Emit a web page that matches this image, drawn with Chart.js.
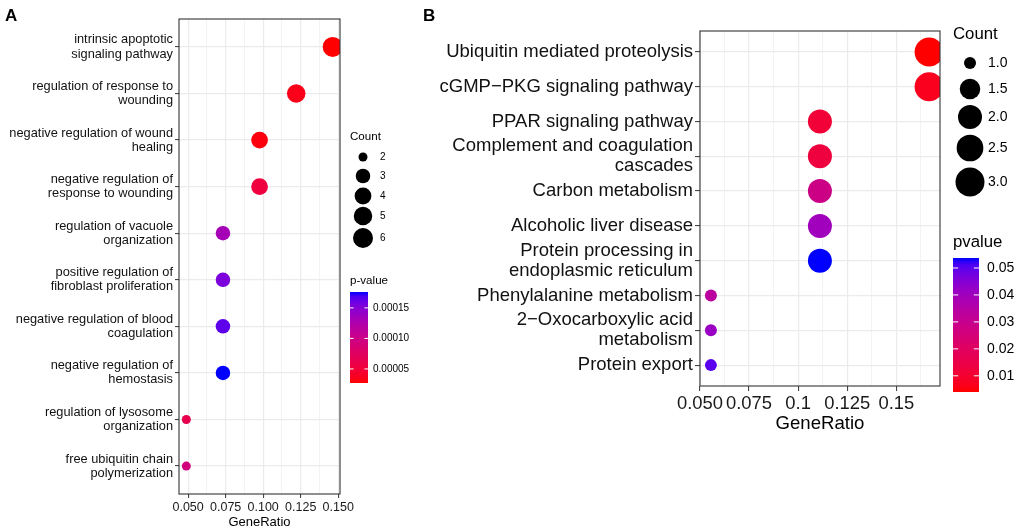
<!DOCTYPE html>
<html>
<head>
<meta charset="utf-8">
<script src="https://cdn.jsdelivr.net/npm/chart.js@4.4.1/dist/chart.umd.min.js"></script>
<style>
  body { margin: 0; background: #fff; }
  #wrap { position: relative; width: 1021px; height: 531px; }
  canvas { position: absolute; left: 0; top: 0; }
  .tag { position: absolute; font: bold 17px "Liberation Sans", Arial, sans-serif; color: #000; }
</style>
</head>
<body>
<div id="wrap">
  <canvas id="chartA" width="1021" height="531"></canvas>
  <canvas id="chartB" width="1021" height="531"></canvas>
  <div class="tag" style="left:5px;top:6px">A</div>
  <div class="tag" style="left:423px;top:6px">B</div>
</div>
<script>
// ---- panel A: GO terms ----
const termsA = [
  "intrinsic apoptotic\nsignaling pathway",
  "regulation of response to\nwounding",
  "negative regulation of wound\nhealing",
  "negative regulation of\nresponse to wounding",
  "regulation of vacuole\norganization",
  "positive regulation of\nfibroblast proliferation",
  "negative regulation of blood\ncoagulation",
  "negative regulation of\nhemostasis",
  "regulation of lysosome\norganization",
  "free ubiquitin chain\npolymerization"
];
const ratioA = [0.1463, 0.1220, 0.0976, 0.0976, 0.0732, 0.0732, 0.0732, 0.0732, 0.0488, 0.0488];
const countA = [6, 5, 4, 4, 3, 3, 3, 3, 2, 2];
const pvalA = [0.000027, 0.000034, 0.000031, 0.000054, 0.000131, 0.000154, 0.000164, 0.000176, 0.000064, 0.000094];
const xTicksA = [0.05, 0.075, 0.1, 0.125, 0.15];
const xLabelsA = ["0.050", "0.075", "0.100", "0.125", "0.150"];
const countKeysA = [2, 3, 4, 5, 6];
const countLabelsA = ["2", "3", "4", "5", "6"];
const pTicksA = [0.00005, 0.0001, 0.00015];
const pLabelsA = ["0.00005", "0.00010", "0.00015"];

// ---- panel B: KEGG pathways ----
const termsB = [
  "Ubiquitin mediated proteolysis",
  "cGMP\u2212PKG signaling pathway",
  "PPAR signaling pathway",
  "Complement and coagulation\ncascades",
  "Carbon metabolism",
  "Alcoholic liver disease",
  "Protein processing in\nendoplasmic reticulum",
  "Phenylalanine metabolism",
  "2\u2212Oxocarboxylic acid\nmetabolism",
  "Protein export"
];
const ratioB = [0.1667, 0.1667, 0.1111, 0.1111, 0.1111, 0.1111, 0.1111, 0.0556, 0.0556, 0.0556];
const countB = [3, 3, 2, 2, 2, 2, 2, 1, 1, 1];
const pvalB = [0.0040, 0.0070, 0.0115, 0.0130, 0.0280, 0.0398, 0.0537, 0.0338, 0.0413, 0.0502];
const xTicksB = [0.05, 0.075, 0.1, 0.125, 0.15];
const xLabelsB = ["0.050", "0.075", "0.1", "0.125", "0.15"];
const countKeysB = [1, 1.5, 2, 2.5, 3];
const countLabelsB = ["1.0", "1.5", "2.0", "2.5", "3.0"];
const pTicksB = [0.01, 0.02, 0.03, 0.04, 0.05];
const pLabelsB = ["0.01", "0.02", "0.03", "0.04", "0.05"];

const FONT = "'Liberation Sans', Arial, sans-serif";
Chart.defaults.font.family = FONT;

// red -> blue gradient interpolated in Lab, like ggplot's scale_colour_gradient
function toLin(c) { c /= 255; return c <= 0.04045 ? c / 12.92 : Math.pow((c + 0.055) / 1.055, 2.4); }
function toSrgb(c) {
  c = c <= 0.0031308 ? 12.92 * c : 1.055 * Math.pow(Math.max(c, 0), 1 / 2.4) - 0.055;
  return Math.round(Math.max(0, Math.min(1, c)) * 255);
}
function rgb2lab(rgb) {
  const r = toLin(rgb[0]), g = toLin(rgb[1]), b = toLin(rgb[2]);
  const x = (0.4124 * r + 0.3576 * g + 0.1805 * b) / 0.95047;
  const y = 0.2126 * r + 0.7152 * g + 0.0722 * b;
  const z = (0.0193 * r + 0.1192 * g + 0.9505 * b) / 1.08883;
  const f = t => t > 0.008856 ? Math.cbrt(t) : 7.787 * t + 16 / 116;
  return [116 * f(y) - 16, 500 * (f(x) - f(y)), 200 * (f(y) - f(z))];
}
function lab2rgb(lab) {
  const fy = (lab[0] + 16) / 116, fx = fy + lab[1] / 500, fz = fy - lab[2] / 200;
  const fi = t => t * t * t > 0.008856 ? t * t * t : (t - 16 / 116) / 7.787;
  const x = fi(fx) * 0.95047, y = fi(fy), z = fi(fz) * 1.08883;
  return [
    toSrgb(3.2406 * x - 1.5372 * y - 0.4986 * z),
    toSrgb(-0.9689 * x + 1.8758 * y + 0.0415 * z),
    toSrgb(0.0557 * x - 0.2040 * y + 1.0570 * z)
  ];
}
const LOW = rgb2lab([255, 0, 0]), HIGH = rgb2lab([0, 0, 255]);
function gradColor(t) {
  t = Math.max(0, Math.min(1, t));
  const c = lab2rgb(LOW.map((v, i) => v + (HIGH[i] - v) * t));
  return `rgb(${c[0]},${c[1]},${c[2]})`;
}

function makePanel(canvasId, p) {
  const n = p.terms.length;
  const xlo = Math.min(...p.ratio), xhi = Math.max(...p.ratio);
  const xmin = xlo - 0.05 * (xhi - xlo), xmax = xhi + 0.05 * (xhi - xlo);
  const pmin = Math.min(...p.pval), pmax = Math.max(...p.pval);
  const cmin = Math.min(...p.count), cmax = Math.max(...p.count);
  // area scale like scale_size(range = c(1, 6))
  const radius = c => p.rA + p.rB * (1 + 5 * Math.sqrt((c - cmin) / (cmax - cmin)));
  const isMajor = v => p.xTicks.some(t => Math.abs(t - v) < 1e-9);

  const step = p.xTicks[1] - p.xTicks[0];
  const gridVals = p.xTicks.slice();
  [p.xTicks[0] - step / 2].concat(p.xTicks.map(v => v + step / 2)).forEach(m => {
    if (m > xmin && m < xmax) gridVals.push(m);
  });
  gridVals.sort((a, b) => a - b);

  const frame = {
    id: "frame",
    afterDatasetsDraw(chart) {
      const a = chart.chartArea, ctx = chart.ctx;
      ctx.save();
      ctx.strokeStyle = "#333333";
      ctx.lineWidth = 1.1;
      ctx.strokeRect(a.left, a.top, a.right - a.left, a.bottom - a.top);
      ctx.restore();
    },
    afterDraw(chart) {
      const L = p.legend, ctx = chart.ctx;
      ctx.save();
      ctx.textBaseline = "middle";
      ctx.textAlign = "left";
      ctx.fillStyle = "#000";
      ctx.font = `${L.titleSize}px ${FONT}`;
      ctx.fillText("Count", L.x, L.countTitleY);
      ctx.font = `${L.labelSize}px ${FONT}`;
      p.countKeys.forEach((c, i) => {
        ctx.beginPath();
        ctx.arc(L.keyX, L.keyYs[i], radius(c), 0, Math.PI * 2);
        ctx.fill();
        ctx.fillText(p.countLabels[i], L.labelX, L.keyYs[i]);
      });
      ctx.font = `${L.titleSize}px ${FONT}`;
      ctx.fillText(p.pTitle, L.x, L.pTitleY);
      const g = ctx.createLinearGradient(0, L.barBottom, 0, L.barTop);
      for (let k = 0; k <= 20; k++) g.addColorStop(k / 20, gradColor(k / 20));
      ctx.fillStyle = g;
      ctx.fillRect(L.x, L.barTop, L.barW, L.barBottom - L.barTop);
      ctx.font = `${L.labelSize}px ${FONT}`;
      p.pTicks.forEach((v, i) => {
        const y = L.barBottom - (v - pmin) / (pmax - pmin) * (L.barBottom - L.barTop);
        ctx.strokeStyle = "#fff";
        ctx.lineWidth = 1;
        ctx.beginPath();
        ctx.moveTo(L.x, y); ctx.lineTo(L.x + L.barW / 5, y);
        ctx.moveTo(L.x + L.barW, y); ctx.lineTo(L.x + L.barW * 4 / 5, y);
        ctx.stroke();
        ctx.fillStyle = "#000";
        ctx.fillText(p.pLabels[i], L.pLabelX, y);
      });
      ctx.restore();
    }
  };

  return new Chart(document.getElementById(canvasId), {
    type: "bubble",
    data: {
      datasets: [{
        data: p.ratio.map((x, i) => ({ x: x, y: n - i, r: radius(p.count[i]) })),
        backgroundColor: p.pval.map(v => gradColor((v - pmin) / (pmax - pmin))),
        borderWidth: 0,
        clip: 0
      }]
    },
    options: {
      responsive: false,
      animation: false,
      events: [],
      layout: { padding: p.pad },
      plugins: { legend: { display: false }, tooltip: { enabled: false } },
      scales: {
        x: {
          type: "linear",
          min: xmin,
          max: xmax,
          afterBuildTicks: s => { s.ticks = gridVals.map(v => ({ value: v })); },
          afterFit: s => { s.height = p.xAxisH; },
          border: { display: false },
          grid: {
            color: "#EBEBEB",
            lineWidth: c => isMajor(c.tick.value) ? 1.2 : 0.6,
            tickColor: c => isMajor(c.tick.value) ? "#333333" : "rgba(0,0,0,0)",
            tickLength: p.tickLen,
            tickWidth: 1
          },
          ticks: {
            autoSkip: false,
            maxRotation: 0,
            padding: p.xTickPad,
            color: "#1a1a1a",
            font: { size: p.xTickSize },
            callback: v => {
              const i = p.xTicks.findIndex(t => Math.abs(t - v) < 1e-9);
              return i < 0 ? "" : p.xLabels[i];
            }
          },
          title: {
            display: true,
            text: "GeneRatio",
            color: "#000",
            font: { size: p.xTitleSize },
            padding: { top: 0, bottom: p.xTitlePadBottom }
          }
        },
        y: {
          type: "linear",
          min: 0.4,
          max: n + 0.6,
          afterBuildTicks: s => { s.ticks = p.terms.map((_, i) => ({ value: i + 1 })); },
          afterFit: s => { s.width = p.yAxisW; },
          border: { display: false },
          grid: { color: "#EBEBEB", lineWidth: 1.2, tickColor: "#333333", tickLength: p.tickLen, tickWidth: 1 },
          ticks: {
            autoSkip: false,
            padding: 2,
            color: "#111",
            font: { size: p.yTickSize, lineHeight: p.yLineHeight },
            callback: v => p.terms[n - v].split("\n")
          }
        }
      }
    },
    plugins: [frame]
  });
}

makePanel("chartA", {
  terms: termsA, ratio: ratioA, count: countA, pval: pvalA,
  xTicks: xTicksA, xLabels: xLabelsA,
  countKeys: countKeysA, countLabels: countLabelsA,
  pTicks: pTicksA, pLabels: pLabelsA, pTitle: "p-value",
  rA: 3.4, rB: 1.1,
  pad: { top: 19, right: 681, left: 0, bottom: 0 },
  yAxisW: 179, xAxisH: 37, tickLen: 4, xTickPad: 2,
  xTickSize: 12.5, xTitleSize: 13, xTitlePadBottom: 1.2,
  yTickSize: 12.8, yLineHeight: 1.1,
  legend: {
    x: 350, countTitleY: 137, keyX: 363, keyYs: [157, 176, 196, 216, 238], labelX: 380,
    titleSize: 11.6, labelSize: 10,
    pTitleY: 281, barW: 18, barTop: 292, barBottom: 383, pLabelX: 373
  }
});

makePanel("chartB", {
  terms: termsB, ratio: ratioB, count: countB, pval: pvalB,
  xTicks: xTicksB, xLabels: xLabelsB,
  countKeys: countKeysB, countLabels: countLabelsB,
  pTicks: pTicksB, pLabels: pLabelsB, pTitle: "pvalue",
  rA: 4.3, rB: 1.7,
  pad: { top: 31, right: 81, left: 0, bottom: 0 },
  yAxisW: 700, xAxisH: 145, tickLen: 5, xTickPad: 2,
  xTickSize: 18.4, xTitleSize: 18.6, xTitlePadBottom: 96,
  yTickSize: 18.5, yLineHeight: 1.08,
  legend: {
    x: 953, countTitleY: 34, keyX: 970, keyYs: [63, 89, 117, 148, 182], labelX: 988,
    titleSize: 16.8, labelSize: 14,
    pTitleY: 242, barW: 26, barTop: 258, barBottom: 392, pLabelX: 987
  }
});
</script>
</body>
</html>
